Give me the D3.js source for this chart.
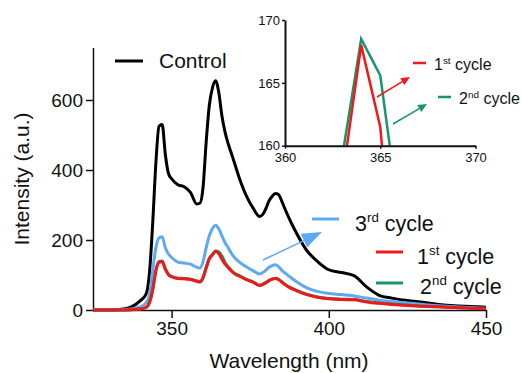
<!DOCTYPE html>
<html>
<head>
<meta charset="utf-8">
<script src="https://cdn.jsdelivr.net/npm/d3@7"></script>
<style>
    body { margin: 0; background: #fff; }
    text { font-family: "Liberation Sans", Arial, sans-serif; fill: #111; }
    .axis path, .axis line { stroke: #111; }
</style>
</head>
<body>
<div id="chart"></div>
<script>
// Wavelength (nm) of each sample
const wavelength = [325, 330, 334, 337, 340, 342, 343, 344, 345, 346, 347, 348, 349, 350,
    352, 354, 356, 358, 359, 360, 361, 362, 363, 364, 365, 366, 367, 368, 369, 370,
    372, 374, 376, 378, 379, 380, 381, 382, 383, 384, 385, 386, 388, 390, 393, 396, 400,
    404, 408, 412, 416, 420, 425, 430, 435, 440, 445, 450];

// Intensity (a.u.) for every series
const control = [0, 0, 2, 8, 26, 48, 110, 250, 420, 525, 530, 445, 390, 375,
    358, 352, 336, 303, 305, 350, 480, 585, 635, 655, 622, 555, 508, 475, 448, 420,
    365, 322, 290, 267, 273, 290, 312, 325, 333, 330, 312, 290, 250, 215, 170, 142, 115,
    107, 98, 66, 42, 34, 27, 22, 16, 12, 10, 8];

const cycle3 = [0, 0, 1, 3, 9, 22, 45, 115, 178, 206, 209, 178, 160, 150,
    137, 134, 131, 122, 120, 138, 178, 212, 233, 242, 232, 212, 192, 178, 162, 150,
    134, 122, 112, 103, 107, 114, 122, 127, 129, 124, 114, 106, 92, 79, 63, 54, 47,
    44, 40, 34, 28, 24, 20, 16, 12, 9, 7, 5];

const cycle1 = [0, 0, 0, 1, 3, 8, 22, 58, 112, 136, 138, 116, 101, 95,
    90, 89, 87, 82, 80, 92, 120, 146, 157.3, 168, 161.5, 145, 131, 121, 112, 104,
    95, 86, 79, 70, 73, 78, 84, 88, 90, 87, 80, 73, 62, 54, 44, 37, 32,
    30, 29, 23, 19, 16, 13, 11, 9, 7, 5, 4];

const cycle2 = [0, 0, 0, 1, 3, 8, 23, 60, 114, 138, 140, 118, 102, 96,
    91, 90, 88, 83, 81, 93, 122, 148, 159.1, 168.5, 165.6, 154.4, 136, 123, 113, 105,
    96, 87, 80, 71, 74, 79, 85, 89, 91, 88, 81, 74, 63, 55, 45, 38, 33,
    31, 30, 24, 20, 17, 14, 11, 9, 7, 5, 4];

// Tick values
const xTicks = [350, 400, 450];
const yTicks = [0, 200, 400, 600];
const insetXTicks = [360, 365, 370];
const insetYTicks = [160, 165, 170];

const colors = {
    control: "#000000",
    cycle3: "#5fa8f2",
    cycle2: "#16976a",
    cycle1: "#f01818"
};

const width = 522, height = 373;

let svg = d3.select("#chart")
    .append("svg")
    .attr("width", width)
    .attr("height", height);

svg.append("rect").attr("width", width).attr("height", height).attr("fill", "#fff");

// Main scales
let x = d3.scaleLinear().domain([325, 450]).range([93, 486]);
let y = d3.scaleLinear().domain([0, 750]).range([310, 47.5]);

let toPoints = vals => vals.map((v, i) => [wavelength[i], v]);

let line = d3.line()
    .x(d => x(d[0]))
    .y(d => y(d[1]))
    .curve(d3.curveMonotoneX);

// Axes
let xAxis = svg.append("g")
    .attr("class", "axis")
    .attr("transform", `translate(0, ${y(0)})`)
    .call(d3.axisBottom(x).tickValues(xTicks).tickSize(8).tickSizeOuter(0).tickPadding(4));

let yAxis = svg.append("g")
    .attr("class", "axis")
    .attr("transform", `translate(${x(325)}, 0)`)
    .call(d3.axisLeft(y).tickValues(yTicks).tickSize(7).tickSizeOuter(0).tickPadding(3));

[xAxis, yAxis].forEach(a => {
    a.select(".domain").attr("stroke-width", 1.5);
    a.selectAll(".tick line").attr("stroke-width", 1.5);
    a.selectAll("text").style("font-size", "19px").attr("fill", "#111")
        .style("font-family", "Liberation Sans, Arial, sans-serif");
});

// Axis titles
svg.append("text")
    .attr("x", 289)
    .attr("y", 368)
    .attr("text-anchor", "middle")
    .style("font-size", "21px")
    .text("Wavelength (nm)");

svg.append("text")
    .attr("transform", "rotate(-90)")
    .attr("x", -179)
    .attr("y", 29)
    .attr("text-anchor", "middle")
    .style("font-size", "21px")
    .text("Intensity (a.u.)");

// Spectra
let series = [
    { key: "control", values: control },
    { key: "cycle3", values: cycle3 },
    { key: "cycle2", values: cycle2 },
    { key: "cycle1", values: cycle1 }
];

svg.selectAll(".spectrum")
    .data(series)
    .enter()
    .append("path")
    .attr("class", "spectrum")
    .attr("fill", "none")
    .attr("stroke", d => colors[d.key])
    .attr("stroke-width", 3)
    .attr("stroke-linejoin", "round")
    .attr("d", d => line(toPoints(d.values)));

// Helper for the arrows
function drawArrow(g, x1, y1, x2, y2, color, w, headLen, headW) {
    let ang = Math.atan2(y2 - y1, x2 - x1);
    let bx = x2 - headLen * Math.cos(ang), by = y2 - headLen * Math.sin(ang);
    g.append("line")
        .attr("x1", x1).attr("y1", y1).attr("x2", bx).attr("y2", by)
        .attr("stroke", color).attr("stroke-width", w);
    let px = -Math.sin(ang) * headW / 2, py = Math.cos(ang) * headW / 2;
    g.append("path")
        .attr("d", `M${x2},${y2}L${bx + px},${by + py}L${bx - px},${by - py}Z`)
        .attr("fill", color);
}

// Legend entries with superscripts
function legendText(g, xPos, yPos, base, sup, rest, size) {
    let t = g.append("text").attr("x", xPos).attr("y", yPos).style("font-size", size + "px");
    t.append("tspan").text(base);
    if (sup) {
        t.append("tspan").attr("dy", -size * 0.4).style("font-size", (size * 0.62) + "px").text(sup);
        t.append("tspan").attr("dy", size * 0.4).text(rest);
    }
    return t;
}

function legendLine(g, x1, x2, yPos, color, w) {
    g.append("line").attr("x1", x1).attr("x2", x2).attr("y1", yPos).attr("y2", yPos)
        .attr("stroke", color).attr("stroke-width", w);
}

let legend = svg.append("g").attr("class", "legend");

legendLine(legend, 115, 143, 61, colors.control, 3);
legendText(legend, 159, 67.5, "Control", null, null, 21);

legendLine(legend, 312, 339, 219, colors.cycle3, 3);
legendText(legend, 355, 230.5, "3", "rd", " cycle", 21.5);

legendLine(legend, 376, 403, 252, colors.cycle1, 3);
legendText(legend, 417, 264, "1", "st", " cycle", 21.5);

legendLine(legend, 376, 403, 283, colors.cycle2, 3);
legendText(legend, 420, 294, "2", "nd", " cycle", 21.5);

drawArrow(svg, 263, 260, 322, 232, colors.cycle3, 1.5, 20, 15);

// Inset
let inset = svg.append("g").attr("class", "inset");
let xi = d3.scaleLinear().domain([360, 370]).range([285, 475.5]);
let yi = d3.scaleLinear().domain([160, 170]).range([145.7, 20]);

inset.append("clipPath").attr("id", "inset-clip")
    .append("rect")
    .attr("x", xi(360)).attr("y", yi(170) - 5)
    .attr("width", xi(370) - xi(360)).attr("height", yi(160) - yi(170) + 5);

let insetLine = d3.line()
    .x(d => xi(d[0]))
    .y(d => yi(d[1]));

inset.selectAll(".inset-line")
    .data([{ key: "cycle2", values: cycle2 }, { key: "cycle1", values: cycle1 }])
    .enter()
    .append("path")
    .attr("class", "inset-line")
    .attr("clip-path", "url(#inset-clip)")
    .attr("fill", "none")
    .attr("stroke", d => colors[d.key])
    .attr("stroke-width", 2.5)
    .attr("d", d => insetLine(toPoints(d.values).filter(p => p[0] >= 355 && p[0] <= 375)));

let ixAxis = inset.append("g")
    .attr("class", "axis")
    .attr("transform", `translate(0, ${yi(160)})`)
    .call(d3.axisBottom(xi).tickValues(insetXTicks).tickSize(3).tickSizeOuter(0).tickPadding(4));

let iyAxis = inset.append("g")
    .attr("class", "axis")
    .attr("transform", `translate(${xi(360)}, 0)`)
    .call(d3.axisLeft(yi).tickValues(insetYTicks).tickSize(3).tickSizeOuter(0).tickPadding(2));

[ixAxis, iyAxis].forEach(a => {
    a.select(".domain").attr("stroke-width", 2);
    a.selectAll(".tick line").attr("stroke-width", 1.5);
    a.selectAll("text").style("font-size", "13px").attr("fill", "#111")
        .style("font-family", "Liberation Sans, Arial, sans-serif");
});

legendLine(inset, 413, 426, 63, colors.cycle1, 2.5);
legendText(inset, 434, 70, "1", "st", " cycle", 16);

legendLine(inset, 438, 451, 97, colors.cycle2, 2.5);
legendText(inset, 459, 104, "2", "nd", " cycle", 16);

drawArrow(inset, 377, 97, 410, 77, colors.cycle1, 1.5, 9, 8);
drawArrow(inset, 393, 124, 427, 104, colors.cycle2, 1.5, 9, 8);
</script>
</body>
</html>
